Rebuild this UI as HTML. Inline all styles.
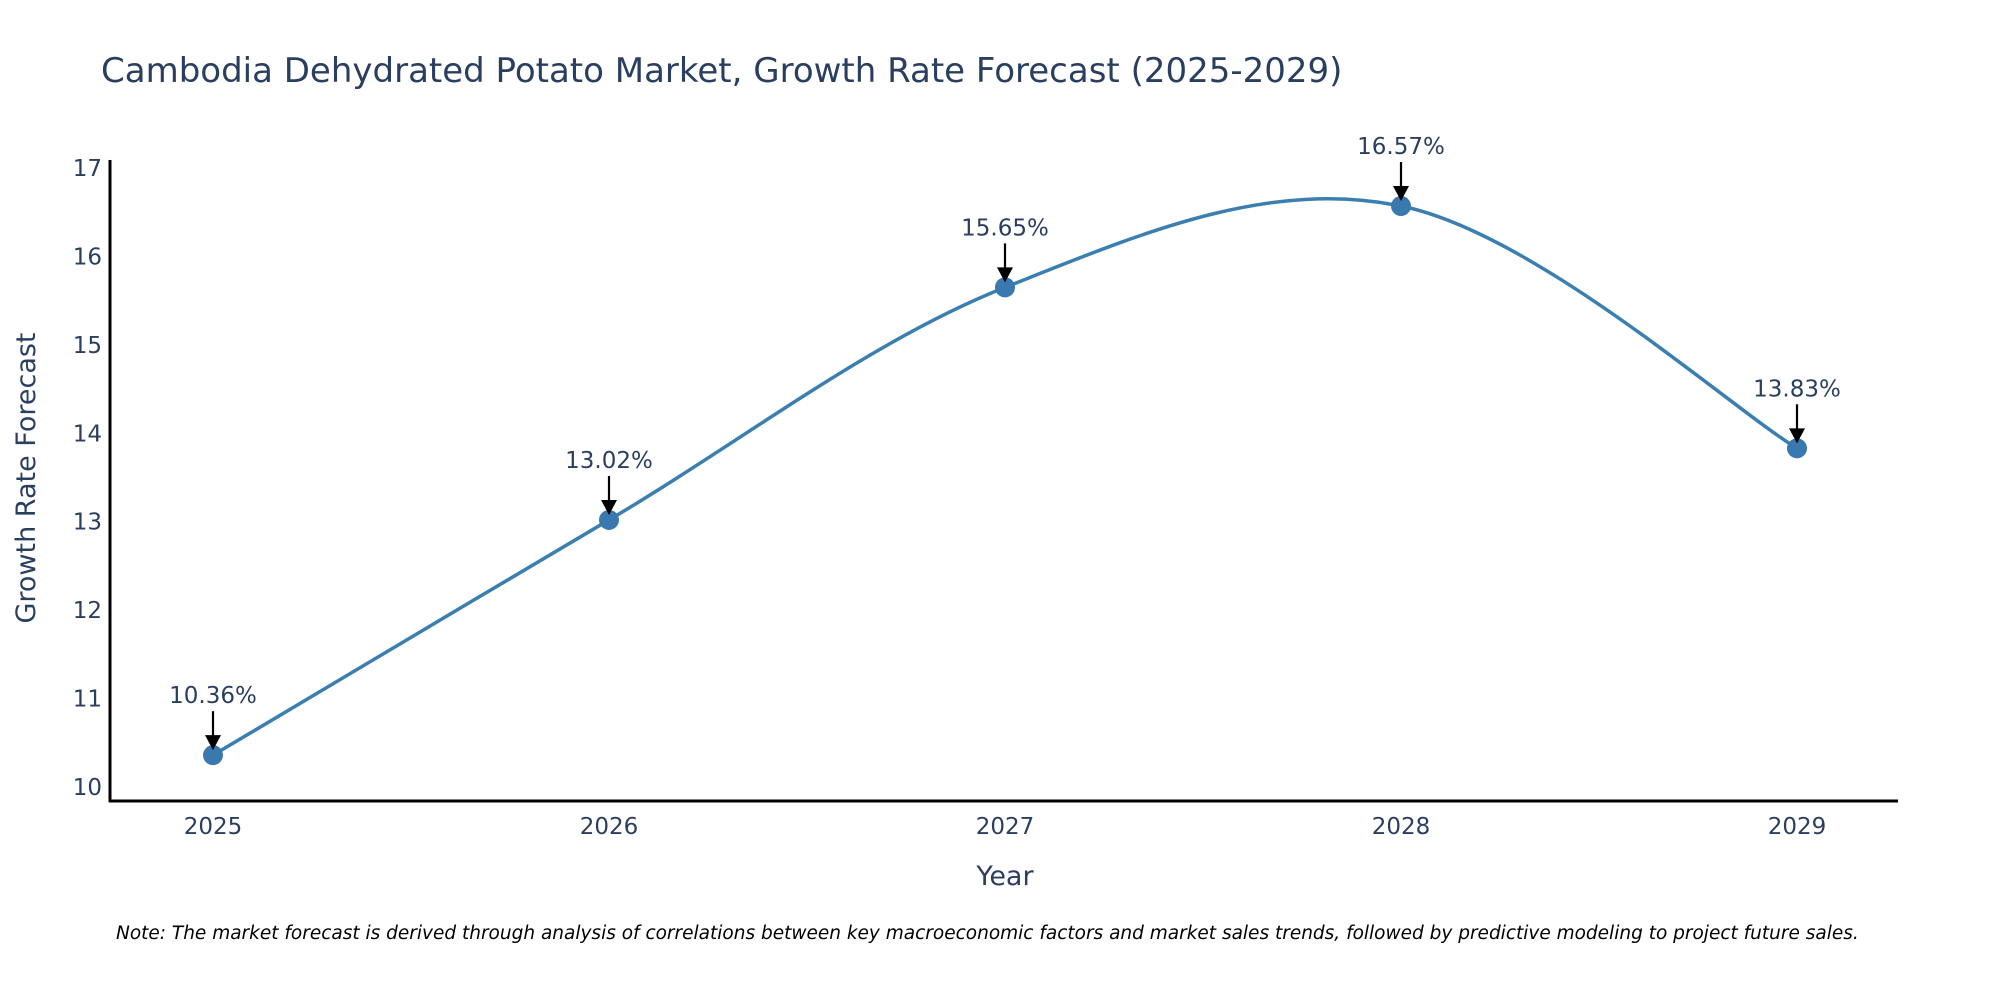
<!DOCTYPE html>
<html><head><meta charset="utf-8"><style>
html,body{margin:0;padding:0;background:#fff;}
svg text{font-family:"DejaVu Sans","Liberation Sans",sans-serif;}
</style></head><body>
<svg id="chart" width="2000" height="1000" xmlns="http://www.w3.org/2000/svg">
<text x="101" y="82" font-size="34" fill="#2a3f5f">Cambodia Dehydrated Potato Market, Growth Rate Forecast (2025-2029)</text>
<g id="plot"></g>
<text x="1005" y="885" font-size="27" fill="#2a3f5f" text-anchor="middle">Year</text>
<text transform="translate(35,478) rotate(-90)" font-size="27" fill="#2a3f5f" text-anchor="middle">Growth Rate Forecast</text>
<text x="116" y="939" font-size="18.5" font-style="italic" fill="#000">Note: The market forecast is derived through analysis of correlations between key macroeconomic factors and market sales trends, followed by predictive modeling to project future sales.</text>
</svg>
<script>
const years = [2025, 2026, 2027, 2028, 2029];
const values = [10.36, 13.02, 15.65, 16.57, 13.83];
const yTicks = [10, 11, 12, 13, 14, 15, 16, 17];
const labels = ["10.36%", "13.02%", "15.65%", "16.57%", "13.83%"];

const NS = "http://www.w3.org/2000/svg";
const g = document.getElementById('plot');
const x = v => 213 + (v - 2025) * 396;
const y = v => 787 - (v - 10) * 88.43;
function mk(tag, attrs){const e=document.createElementNS(NS,tag);for(const k in attrs)e.setAttribute(k,attrs[k]);g.appendChild(e);return e;}

const ya = mk('line',{x1:110,y1:160,x2:110,y2:802,stroke:'#000','stroke-width':3});


const xa = mk('line',{x1:109,y1:801,x2:1898,y2:801,stroke:'#000','stroke-width':3});



yTicks.forEach(t=>{
  const e=mk('text',{x:102,y:y(t)+8,'font-size':23,fill:'#2a3f5f','text-anchor':'end'});
  e.textContent=t;
  
  
});
years.forEach(yr=>{
  const e=mk('text',{x:x(yr),y:834,'font-size':23,fill:'#2a3f5f','text-anchor':'middle'});
  e.textContent=yr;
  
  
});

const pts = years.map((yr,i)=>[x(yr),y(values[i])]);
let d = `M${pts[0][0]},${pts[0][1]}`;
const k = 0.17;
for(let i=0;i<pts.length-1;i++){
  const p0=pts[Math.max(0,i-1)],p1=pts[i],p2=pts[i+1],p3=pts[Math.min(pts.length-1,i+2)];
  const c1=[p1[0]+(p2[0]-p0[0])*k,p1[1]+(p2[1]-p0[1])*k];
  const c2=[p2[0]-(p3[0]-p1[0])*k,p2[1]-(p3[1]-p1[1])*k];
  d+=` C${c1[0]},${c1[1]} ${c2[0]},${c2[1]} ${p2[0]},${p2[1]}`;
}
const line = mk('path',{d:d,fill:'none',stroke:'#3a7fb0','stroke-width':3.5});



pts.forEach((p,i)=>{
  const c=mk('circle',{cx:p[0],cy:p[1],r:10,fill:'#3a78b0'});
  
  
  const a=mk('line',{x1:p[0],y1:p[1]-44,x2:p[0],y2:p[1]-18,stroke:'#000','stroke-width':2.2});
  
  
  const h=mk('polygon',{points:`${p[0]-8},${p[1]-20} ${p[0]+8},${p[1]-20} ${p[0]},${p[1]-5}`,fill:'#000'});
  
  
  const t=mk('text',{x:p[0],y:p[1]-52,'font-size':23,fill:'#2a3f5f','text-anchor':'middle'});
  t.textContent=labels[i];
  
  
});
</script>
</body></html>
